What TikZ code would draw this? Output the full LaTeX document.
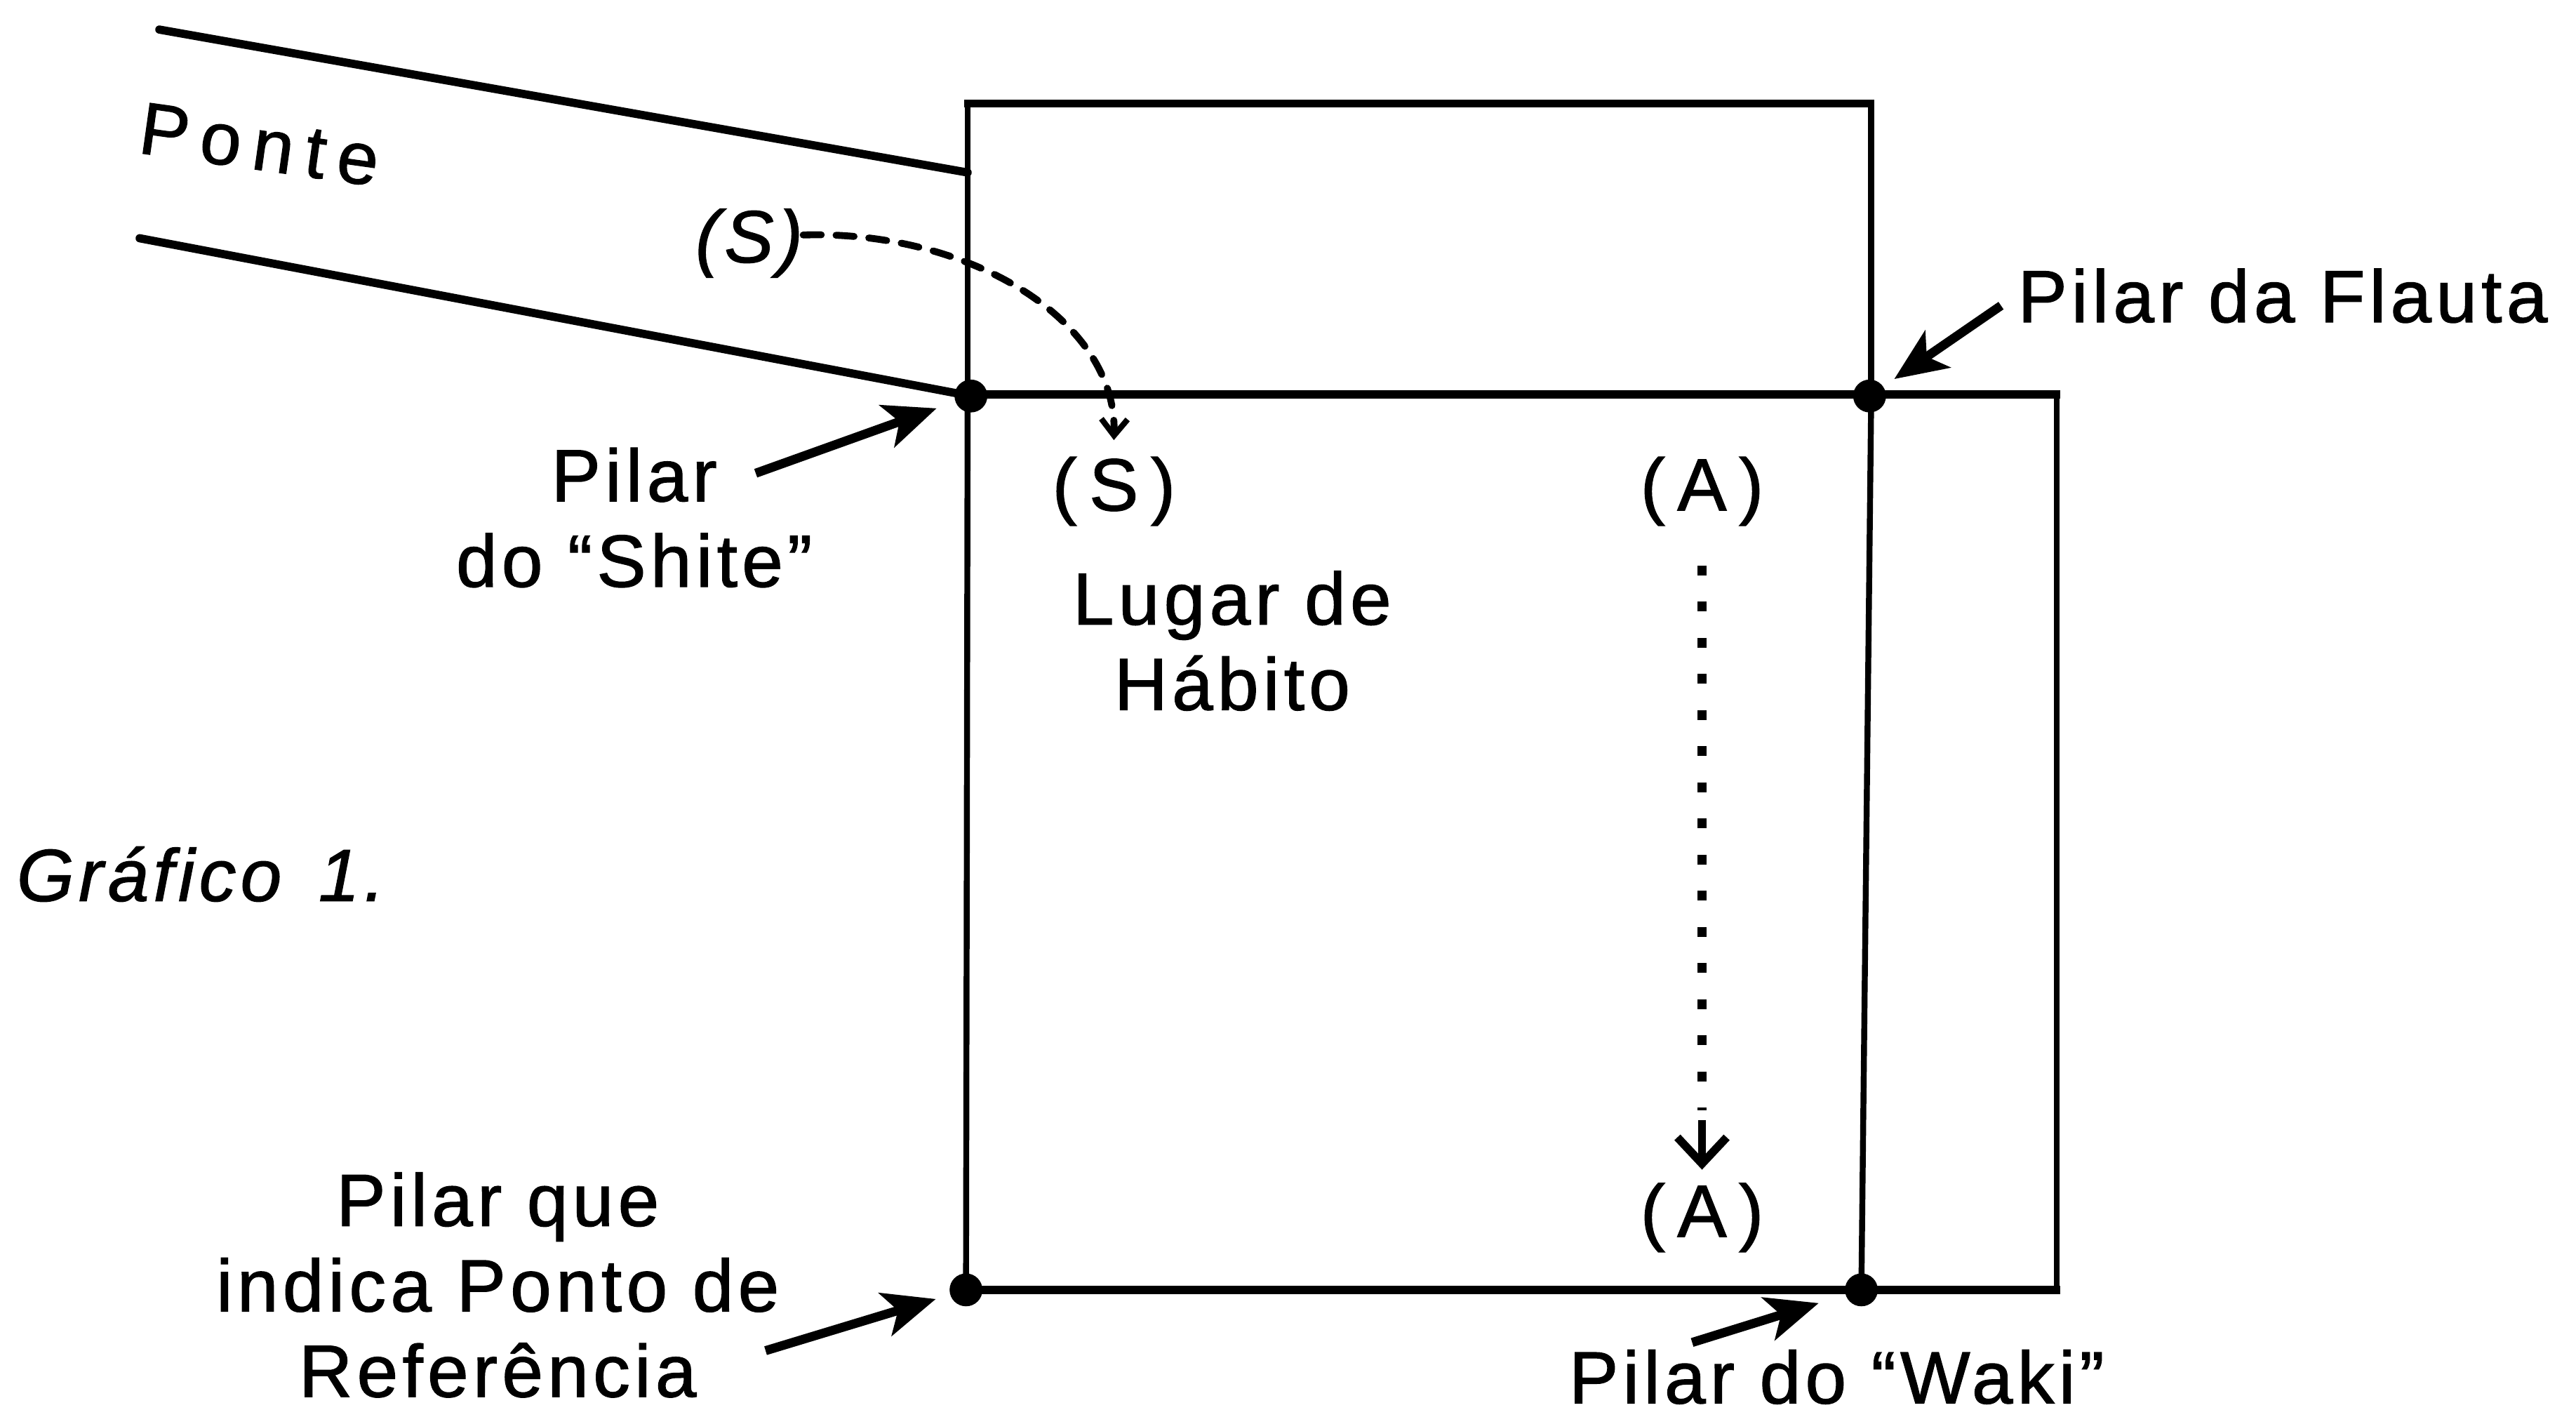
\documentclass[tikz,border=0pt]{standalone}
\usepackage{fontspec}
\setmainfont{Liberation Sans}[LetterSpace=6, FakeBold=1.2]
\newfontfamily\spacedfont{Liberation Sans}[LetterSpace=16, FakeBold=1.2]
\usetikzlibrary{arrows.meta}

\begin{document}
\begin{tikzpicture}[x=1pt,y=-1pt,
  lbl/.style={inner sep=0pt, font=\fontsize{45}{52}\selectfont, align=center},
  wallv/.style={line width=3.6pt},
  wallh/.style={line width=5pt},
  bridge/.style={line width=5pt, line cap=round},
  pillar/.style={circle, fill=black, inner sep=0pt, minimum size=20pt},
  pointer/.style={line width=5.5pt, -{Stealth[length=32pt,width=27pt,inset=8pt]}},
  entrance/.style={line width=4.2pt, line cap=round, dash pattern=on 11pt off 9pt,
    -{Straight Barb[length=10pt,width=16pt,line width=3.5pt]}},
  advance/.style={line width=5.5pt, dash pattern=on 6pt off 16pt},
  advancetip/.style={line width=5pt, -{Straight Barb[length=16pt,width=30pt,line width=5pt]}}]

\useasboundingbox (0,0) rectangle (1568,862);

% stage outline
\draw[wallv] (589,240) -- (589,63);
\draw[wallh] (587,63) -- (1141,63);
\draw[wallv] (1139,63) -- (1139,240);
\draw[wallh] (589,240) -- (1254,240);
\draw[wallv] (589,240) -- (588,785);
\draw[wallv] (1139,240) -- (1133,785);
\draw[wallv] (1252,240) -- (1252,785);
\draw[wallh] (588,785) -- (1254,785);

% pillars
\node[pillar] (ps) at (591,241) {};
\node[pillar] (pf) at (1138,241) {};
\node[pillar] (pr) at (588,785) {};
\node[pillar] (pw) at (1133,785) {};

% bridge
\draw[bridge] (97,18) -- (589,105);
\draw[bridge] (85,145) -- (ps.center);
\node[lbl, rotate=-8] (ponte) at (158,88) {\spacedfont Ponte};

% labels
\node[lbl] (sit) at (456,148) {\itshape (S)};
\node[lbl] (sup) at (678,299) {(\,S\,)};
\node[lbl] (atop) at (1036,299) {(\,A\,)};
\node[lbl] (abot) at (1036,741) {(\,A\,)};
\node[lbl] (lugar) at (750,390) {Lugar de\\Hábito};
\node[lbl] (lshite) at (386,315) {Pilar\\do “Shite”};
\node[lbl, anchor=west] (lflauta) at (1228,180) {Pilar da Flauta};
\node[lbl, anchor=west] (graf) at (10,532) {\itshape Gráfico\enspace 1.};
\node[lbl] (lref) at (303,782) {Pilar que\\indica Ponto de\\Referência};
\node[lbl] (lwaki) at (1118,838) {Pilar do “Waki”};

% pointer arrows to the pillars
\coordinate (cshite) at (460,288);
\coordinate (cflauta) at (1218,186);
\coordinate (cref) at (466,822);
\coordinate (cwaki) at (1030,817);
\draw[pointer, shorten >=12pt] (cshite) -- (ps);
\draw[pointer, shorten >=8pt] (cflauta) -- (pf);
\draw[pointer, shorten >=9pt] (cref) -- (pr);
\draw[pointer, shorten >=17pt] (cwaki) -- (pw);

% movements
\draw[entrance] ([yshift=5pt]sit.east) .. controls (590,140) and (680,195) .. ([yshift=10pt]sup.north);
\draw[advance, shorten <=24pt] (atop.south) -- ([yshift=44pt]abot.north);
\draw[advancetip] ([yshift=38pt]abot.north) -- ([yshift=8pt]abot.north);
\end{tikzpicture}
\end{document}
